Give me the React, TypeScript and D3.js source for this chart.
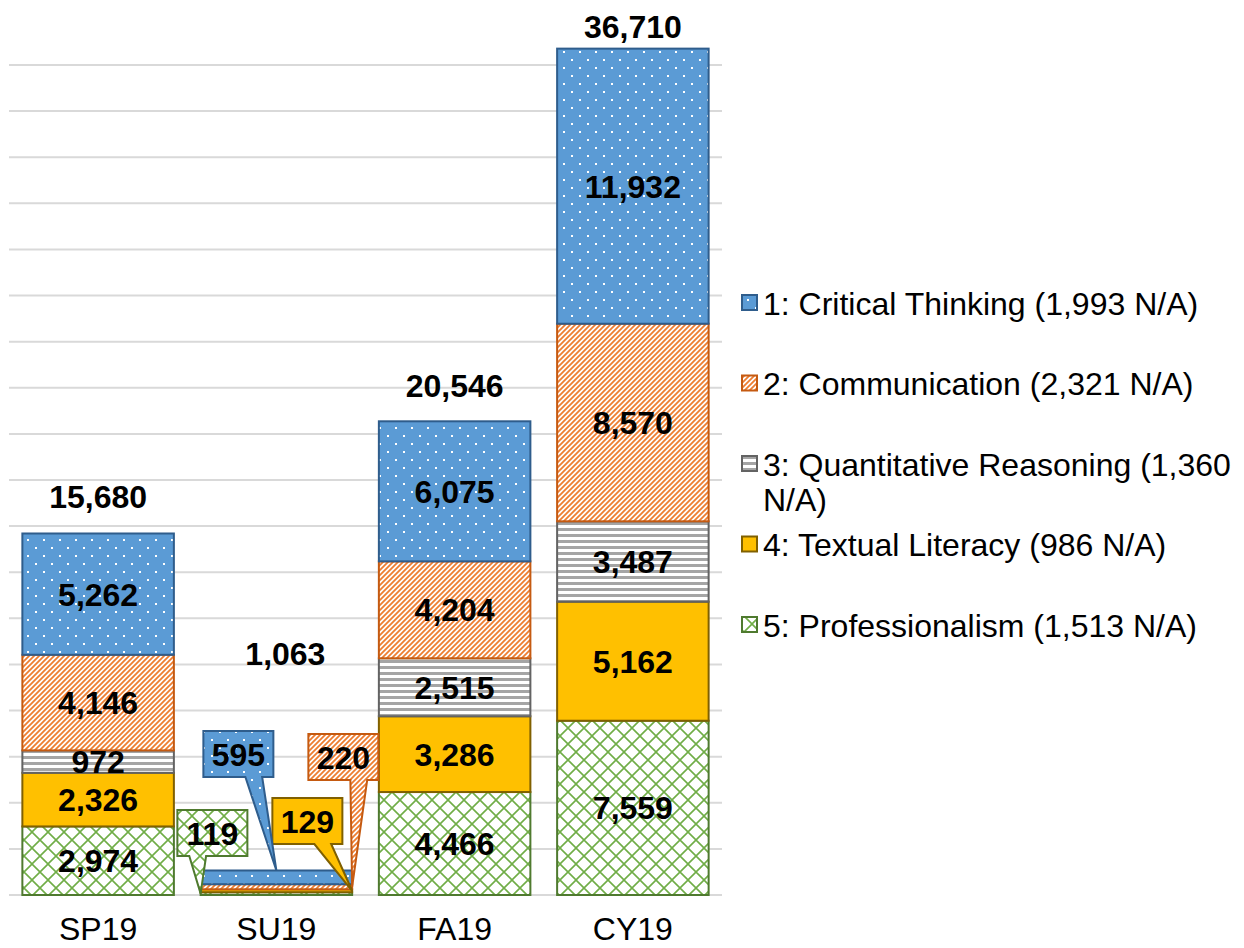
import React, { useEffect, useRef } from 'react';
import * as d3 from 'd3';

const categories = ['SP19', 'SU19', 'FA19', 'CY19'];
const criticalThinking = [5262, 595, 6075, 11932];
const communication = [4146, 220, 4204, 8570];
const quantitative = [972, 0, 2515, 3487];
const textualLiteracy = [2326, 129, 3286, 5162];
const professionalism = [2974, 119, 4466, 7559];

const legendNames = [
  '1: Critical Thinking (1,993 N/A)',
  '2: Communication (2,321 N/A)',
  '3: Quantitative Reasoning (1,360 N/A)',
  '4: Textual Literacy (986 N/A)',
  '5: Professionalism (1,513 N/A)',
];

const FONT = 'Arial, "Liberation Sans", sans-serif';
const FS = 32;

// bottom to top
const seriesDefs = [
  { key: 's5', values: professionalism, fill: 'url(#pat-green)', stroke: '#4F7A2F', legend: 4 },
  { key: 's4', values: textualLiteracy, fill: '#FFC000', stroke: '#806000', legend: 3 },
  { key: 's3', values: quantitative, fill: 'url(#pat-gray)', stroke: '#636363', legend: 2 },
  { key: 's2', values: communication, fill: 'url(#pat-orange)', stroke: '#C55A11', legend: 1 },
  { key: 's1', values: criticalThinking, fill: 'url(#pat-blue)', stroke: '#2F5D8C', legend: 0 },
];

const App: React.FC = () => {
  const ref = useRef<SVGSVGElement>(null);

  useEffect(() => {
    if (!ref.current) return;
    const svg = d3.select(ref.current);
    svg.selectAll('*').remove();

    const defs = svg.append('defs');
    const blue = defs.append('pattern').attr('id', 'pat-blue').attr('patternUnits', 'userSpaceOnUse')
      .attr('width', 16).attr('height', 16);
    blue.append('rect').attr('width', 16).attr('height', 16).attr('fill', '#5B9BD5');
    blue.append('rect').attr('x', 3).attr('y', 3).attr('width', 2).attr('height', 2).attr('fill', '#fff');
    blue.append('rect').attr('x', 11).attr('y', 11).attr('width', 2).attr('height', 2).attr('fill', '#fff');

    const orange = defs.append('pattern').attr('id', 'pat-orange').attr('patternUnits', 'userSpaceOnUse')
      .attr('width', 5).attr('height', 5);
    orange.append('rect').attr('width', 5).attr('height', 5).attr('fill', '#fff');
    orange.append('path').attr('d', 'M-1,1 L1,-1 M0,5 L5,0 M4,6 L6,4')
      .attr('stroke', '#ED7D31').attr('stroke-width', 1.8);

    const gray = defs.append('pattern').attr('id', 'pat-gray').attr('patternUnits', 'userSpaceOnUse')
      .attr('width', 8).attr('height', 6);
    gray.append('rect').attr('width', 8).attr('height', 6).attr('fill', '#fff');
    gray.append('rect').attr('width', 8).attr('height', 3).attr('fill', '#A5A5A5');

    const green = defs.append('pattern').attr('id', 'pat-green').attr('patternUnits', 'userSpaceOnUse')
      .attr('width', 16).attr('height', 16);
    green.append('rect').attr('width', 16).attr('height', 16).attr('fill', '#fff');
    green.append('path').attr('d', 'M0,0 L16,16 M16,0 L0,16')
      .attr('stroke', '#70AD47').attr('stroke-width', 1.6);

    const x = d3.scaleBand<string>().domain(categories).range([9, 722]).paddingInner(0.15).paddingOuter(0.075);
    const y = d3.scaleLinear().domain([0, 36000]).range([895, 65]);

    // gridlines
    svg.append('g').selectAll('line').data(y.ticks(18)).join('line')
      .attr('x1', 9).attr('x2', 722)
      .attr('y1', d => y(d)).attr('y2', d => y(d))
      .attr('stroke', '#D9D9D9').attr('stroke-width', 2);

    const table = categories.map((c, i) => {
      const row: any = { cat: c };
      seriesDefs.forEach(s => { row[s.key] = s.values[i]; });
      return row;
    });
    const stacked = d3.stack<any>().keys(seriesDefs.map(s => s.key))(table);

    const bars = svg.append('g');
    stacked.forEach((layer, si) => {
      const s = seriesDefs[si];
      bars.append('g').selectAll('rect').data(layer).join('rect')
        .attr('x', d => x(d.data.cat) as number)
        .attr('width', x.bandwidth())
        .attr('y', d => y(d[1]))
        .attr('height', d => Math.max(0, y(d[0]) - y(d[1])))
        .attr('fill', s.fill)
        .attr('stroke', d => (d[1] - d[0] > 0 ? s.stroke : 'none'))
        .attr('stroke-width', 2);
    });

    // inside labels (not SU19 which uses callouts)
    const labels = svg.append('g').attr('font-family', FONT).attr('font-weight', 'bold')
      .attr('font-size', FS).attr('text-anchor', 'middle');
    stacked.forEach(layer => {
      layer.forEach(d => {
        if (d.data.cat === 'SU19') return;
        labels.append('text')
          .attr('x', (x(d.data.cat) as number) + x.bandwidth() / 2)
          .attr('y', (y(d[0]) + y(d[1])) / 2)
          .attr('dy', '0.36em')
          .text(d3.format(',')(d[1] - d[0]));
      });
    });

    // callouts for SU19: box center offsets from band center / baseline, tip anchor
    const calloutLayout: Record<string, { dx: number; dy: number; tip: string }> = {
      s5: { dx: -64, dy: -62, tip: 'left' },
      s1: { dx: -38, dy: -141, tip: 'top' },
      s2: { dx: 67, dy: -138, tip: 'right' },
      s4: { dx: 31, dy: -74, tip: 'right' },
    };
    const su = 'SU19';
    const bx0 = x(su) as number;
    const bx1 = bx0 + x.bandwidth();
    const cx = bx0 + x.bandwidth() / 2;
    const base = y(0);
    const callouts = svg.append('g');
    ['s5', 's4', 's1', 's2'].forEach(key => {
      const si = seriesDefs.findIndex(s => s.key === key);
      const s = seriesDefs[si];
      const seg = stacked[si][1];
      const lay = calloutLayout[key];
      const w = 70, h = 46;
      const bcx = cx + lay.dx, bcy = base + lay.dy;
      const left = bcx - w / 2, right = bcx + w / 2, top = bcy - h / 2, bottom = bcy + h / 2;
      let tx = cx, ty = y(seg[1]);
      if (lay.tip === 'left') { tx = bx0; ty = (y(seg[0]) + y(seg[1])) / 2; }
      if (lay.tip === 'right') { tx = bx1; ty = (y(seg[0]) + y(seg[1])) / 2; }
      const [w0, w1] = tx > bcx ? [left + 0.6 * w, left + 0.84 * w] : [left + 0.17 * w, left + 0.41 * w];
      const p = d3.path();
      p.moveTo(left, top);
      p.lineTo(right, top);
      p.lineTo(right, bottom);
      p.lineTo(w1, bottom);
      p.lineTo(tx, ty);
      p.lineTo(w0, bottom);
      p.lineTo(left, bottom);
      p.closePath();
      callouts.append('path').attr('d', p.toString())
        .attr('fill', s.fill).attr('stroke', s.stroke).attr('stroke-width', 2)
        .attr('stroke-linejoin', 'miter');
      callouts.append('text')
        .attr('x', bcx).attr('y', bcy).attr('dy', '0.36em')
        .attr('text-anchor', 'middle').attr('font-family', FONT).attr('font-weight', 'bold')
        .attr('font-size', FS).text(d3.format(',')(seg[1] - seg[0]));
    });

    // totals
    const totalOffsets = [37, 217, 36, 22];
    const totalShift = [0, 9, 0, 0];
    categories.forEach((c, i) => {
      const total = d3.sum(seriesDefs, s => s.values[i]);
      svg.append('text')
        .attr('x', (x(c) as number) + x.bandwidth() / 2 + totalShift[i])
        .attr('y', y(total) - totalOffsets[i])
        .attr('dy', '0.36em')
        .attr('text-anchor', 'middle').attr('font-family', FONT).attr('font-weight', 'bold')
        .attr('font-size', FS).text(d3.format(',')(total));
    });

    // x axis labels
    svg.append('g').selectAll('text').data(categories).join('text')
      .attr('x', d => (x(d) as number) + x.bandwidth() / 2)
      .attr('y', 940)
      .attr('text-anchor', 'middle').attr('font-family', FONT).attr('font-size', FS)
      .text(d => d);

    // legend
    const legend = svg.append('g').attr('font-family', FONT).attr('font-size', FS);
    const byLegend = [...seriesDefs].sort((a, b) => a.legend - b.legend);
    byLegend.forEach((s, i) => {
      const cy = 303 + i * 80.5;
      legend.append('rect').attr('x', 742).attr('y', cy - 8).attr('width', 15).attr('height', 15)
        .attr('fill', s.fill).attr('stroke', s.stroke).attr('stroke-width', 2);
      const name = legendNames[s.legend];
      const lines = name.length > 32 ? [name.slice(0, name.lastIndexOf(' ')), name.slice(name.lastIndexOf(' ') + 1)] : [name];
      const t = legend.append('text').attr('x', 763).attr('y', cy);
      lines.forEach((ln, li) => {
        t.append('tspan').attr('x', 763).attr('dy', li === 0 ? '0.36em' : 35).text(ln);
      });
    });
  }, []);

  return (
    <div style={{ position: 'absolute', left: 0, top: 0 }}>
      <svg ref={ref} width={1244} height={948} style={{ display: 'block' }}></svg>
    </div>
  );
};

export default App;
